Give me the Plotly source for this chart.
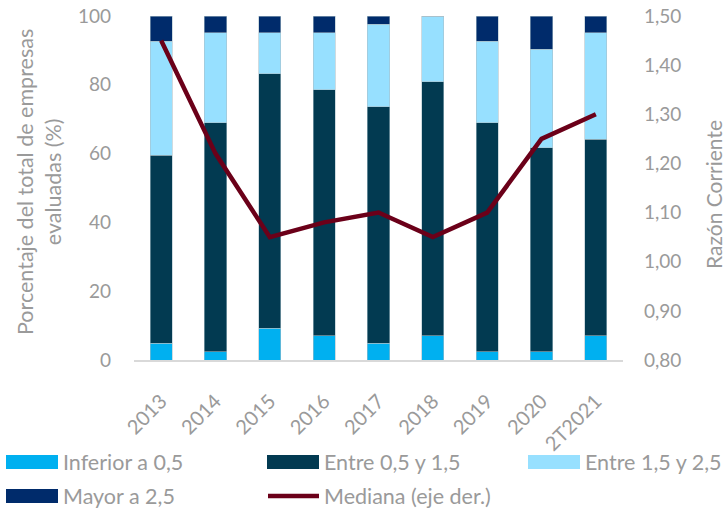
import plotly.graph_objects as go

categories = ["2013", "2014", "2015", "2016", "2017", "2018", "2019", "2020", "2T2021"]
inferior_05 = [4.9, 2.4, 9.3, 7.0, 4.9, 7.0, 2.4, 2.4, 7.0]
entre_05_15 = [54.6, 66.6, 73.9, 71.5, 68.7, 73.9, 66.6, 59.3, 57.2]
entre_15_25 = [33.2, 26.1, 11.9, 16.6, 24.0, 19.1, 23.7, 28.7, 30.9]
mayor_25 = [7.3, 4.9, 4.9, 4.9, 2.4, 0.0, 7.3, 9.6, 4.9]
mediana = [1.45, 1.22, 1.05, 1.08, 1.10, 1.05, 1.10, 1.25, 1.30]

series_names = ["Inferior a 0,5", "Entre 0,5 y 1,5", "Entre 1,5 y 2,5", "Mayor a 2,5"]
series_vals = [inferior_05, entre_05_15, entre_15_25, mayor_25]
colors = ["#00b0f0", "#023a51", "#97e0ff", "#002b6b"]
line_color = "#6b0019"
line_name = "Mediana (eje der.)"

FONT = "Lato"
GRAY = "#9a9a9a"

W, H = 725, 512
L, R, T, B = 134, 102, 16, 152
PW, PH = W - L - R, H - T - B


def px(x):
    return (x - L) / PW


def py(y):
    return (H - B - y) / PH


fig = go.Figure()
for name, vals, c in zip(series_names, series_vals, colors):
    fig.add_trace(go.Bar(
        x=categories, y=vals, name=name, marker_color=c,
        marker_line=dict(color="rgba(170,190,200,0.7)", width=0.8),
        width=0.41, showlegend=False,
    ))
fig.add_trace(go.Scatter(
    x=categories, y=mediana, name=line_name, mode="lines",
    line=dict(color=line_color, width=4.5), yaxis="y2", showlegend=False,
))

fig.update_layout(
    width=W, height=H, barmode="stack", separators=",.",
    margin=dict(l=L, r=R, t=T, b=B, autoexpand=False),
    plot_bgcolor="white", paper_bgcolor="white",
    font=dict(family=FONT, color=GRAY, size=19),
    xaxis=dict(showline=True, linecolor="#d9d9d9", linewidth=1.5, tickangle=-45,
               ticks="", tickfont=dict(size=20, color=GRAY), showgrid=False,
               ticklabelstandoff=20),
    yaxis=dict(range=[0, 100], dtick=20, showgrid=False, zeroline=False,
               tickfont=dict(size=19, color=GRAY), ticks="", ticklabelstandoff=22),
    yaxis2=dict(range=[0.8, 1.5], dtick=0.1, tickformat=".2f", overlaying="y", side="right",
                showgrid=False, zeroline=False, tickfont=dict(size=19, color=GRAY),
                ticks="", ticklabelstandoff=20),
)

ann = []
ann.append(dict(x=px(39), y=py(182), xref="paper", yref="paper", showarrow=False,
                text="Porcentaje del total de empresas<br>evaluadas (%)", textangle=-90,
                font=dict(size=21.5, color=GRAY), xanchor="center", yanchor="middle"))
ann.append(dict(x=px(713), y=py(195), xref="paper", yref="paper", showarrow=False,
                text="Razón Corriente", textangle=-90,
                font=dict(size=21, color=GRAY), xanchor="center", yanchor="middle"))

shapes = []
legend_items = [
    (series_names[0], colors[0], 6, 462, "bar"),
    (series_names[1], colors[1], 267, 462, "bar"),
    (series_names[2], colors[2], 528, 462, "bar"),
    (series_names[3], colors[3], 6, 496, "bar"),
    (line_name, line_color, 267, 496, "line"),
]
for text, c, x0, yc, kind in legend_items:
    if kind == "bar":
        shapes.append(dict(type="rect", xref="paper", yref="paper",
                           x0=px(x0), x1=px(x0 + 52), y0=py(yc - 7), y1=py(yc + 7),
                           fillcolor=c, line=dict(width=0)))
    else:
        shapes.append(dict(type="line", xref="paper", yref="paper",
                           x0=px(x0 + 1), x1=px(x0 + 52), y0=py(yc), y1=py(yc),
                           line=dict(color=c, width=4.5)))
    ann.append(dict(x=px(x0 + 55), y=py(yc), xref="paper", yref="paper", showarrow=False,
                    text=text, xanchor="left", yanchor="middle",
                    font=dict(size=21.5, color=GRAY)))

fig.update_layout(annotations=ann, shapes=shapes)
fig.write_html("out.html")
